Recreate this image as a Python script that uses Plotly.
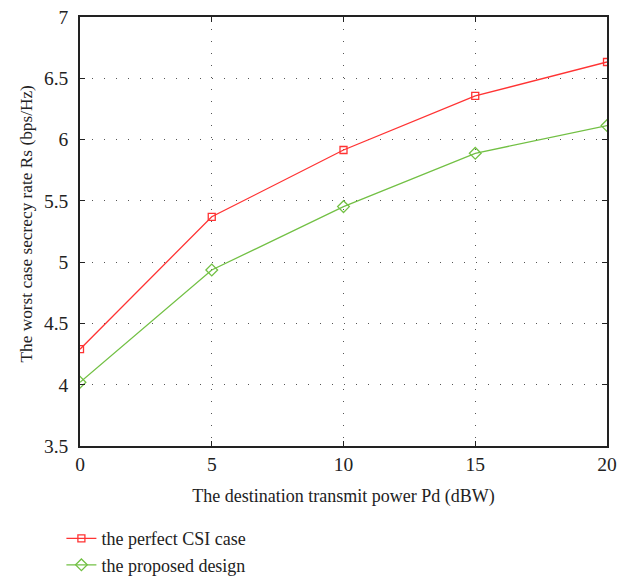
import plotly.graph_objects as go

power_dbw = [0, 5, 10, 15, 20]
perfect_csi = [4.29, 5.37, 5.915, 6.356, 6.633]
proposed = [4.02, 4.936, 5.453, 5.888, 6.114]

x_ticks = [0, 5, 10, 15, 20]
y_ticks = [3.5, 4, 4.5, 5, 5.5, 6, 6.5, 7]

FONT = "Liberation Serif"
TXT = "#222"

fig = go.Figure()
fig.add_trace(go.Scatter(
    x=power_dbw, y=perfect_csi, mode="lines+markers",
    name="the perfect CSI case",
    line=dict(color="#ff3333", width=1.3),
    marker=dict(symbol="square-open", size=7, color="#ff3333", line=dict(width=1.3)),
))
fig.add_trace(go.Scatter(
    x=power_dbw, y=proposed, mode="lines+markers",
    name="the proposed design",
    line=dict(color="#72c044", width=1.3),
    marker=dict(symbol="diamond-open", size=9, color="#72c044", line=dict(width=1.3)),
))

axis_common = dict(
    showline=True, linecolor=TXT, linewidth=1.5, mirror="ticks",
    ticks="inside", ticklen=5, tickcolor=TXT, tickwidth=1,
    showgrid=True, gridcolor="#555", griddash="1px,11px", gridwidth=1,
    zeroline=False, automargin=True,
    tickfont=dict(family=FONT, size=19.5, color=TXT),
)

fig.update_xaxes(
    range=[0, 20], tickvals=x_ticks, ticktext=[str(v) for v in x_ticks],
    title=dict(text="The destination transmit power Pd (dBW)",
               font=dict(family=FONT, size=18, color=TXT), standoff=15),
    **axis_common,
)
fig.update_yaxes(
    range=[3.5, 7], tickvals=y_ticks, ticktext=[f"{v:g}" for v in y_ticks],
    ticklabelstandoff=6,
    **axis_common,
)

fig.add_annotation(
    text="The worst case secrecy rate Rs (bps/Hz)",
    xref="paper", yref="paper", x=0, y=0.5,
    xanchor="center", yanchor="middle", xshift=-54, yshift=7,
    textangle=-90, showarrow=False,
    font=dict(family=FONT, size=17.3, color=TXT),
)

fig.update_layout(
    width=633, height=578,
    margin=dict(l=80, r=26, t=17, b=132, autoexpand=False),
    paper_bgcolor="white", plot_bgcolor="white",
    font=dict(family=FONT, size=18, color=TXT),
    showlegend=True,
    legend=dict(x=0.097, y=0.1, xref="container", yref="container",
                xanchor="left", yanchor="top",
                orientation="v", bgcolor="rgba(0,0,0,0)",
                font=dict(family=FONT, size=18, color=TXT),
                tracegroupgap=0, itemwidth=30),
)

fig.write_html("out.html")
